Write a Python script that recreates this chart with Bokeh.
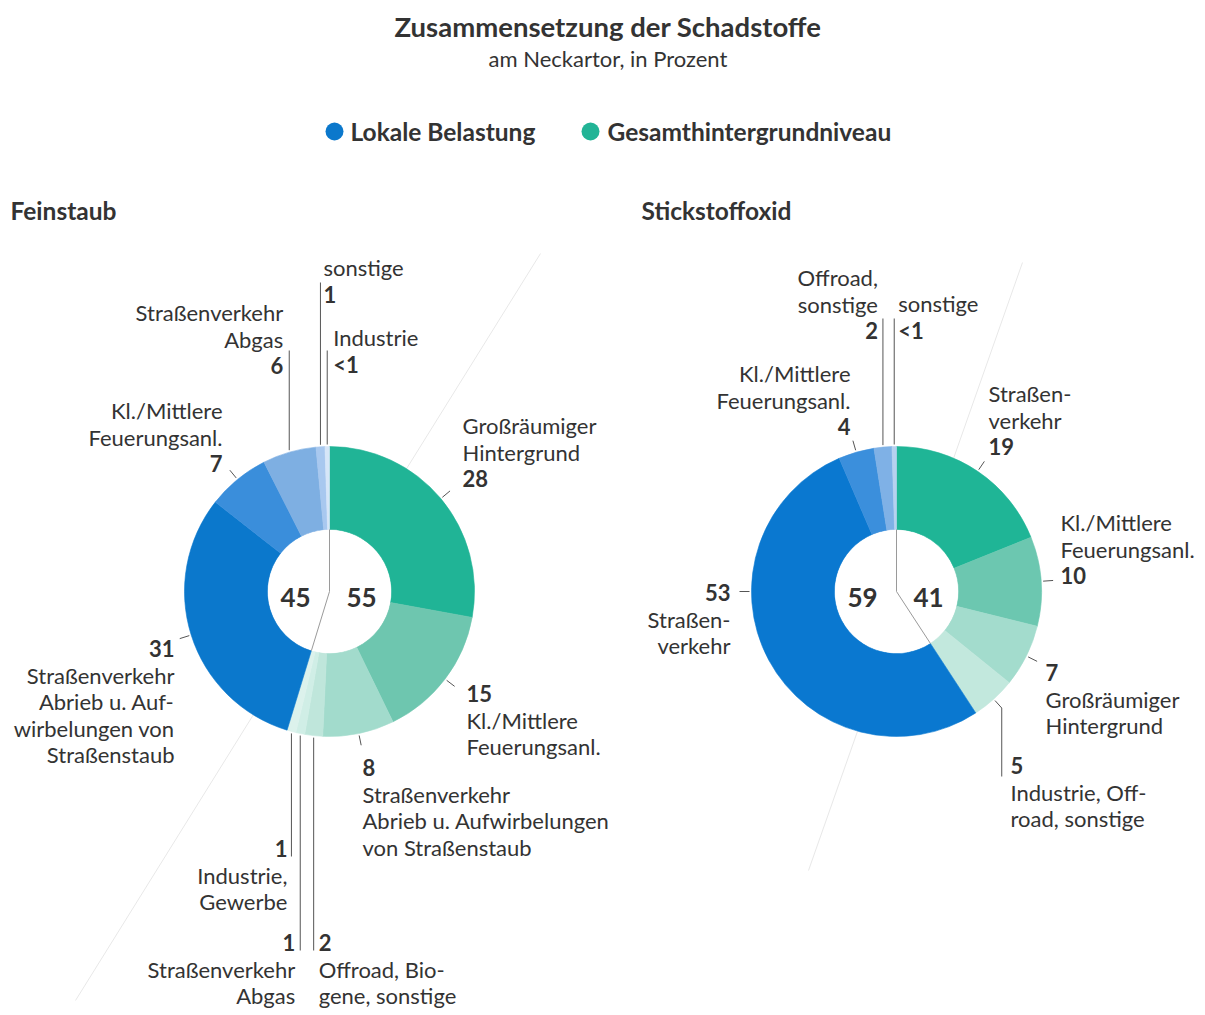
import math
from bokeh.plotting import figure
from bokeh.models import Range1d, ColumnDataSource
from bokeh.embed import file_html
from bokeh.resources import INLINE
from bokeh.core.properties import value

# ---------------- data ----------------
TITLE = "Zusammensetzung der Schadstoffe"
SUBTITLE = "am Neckartor, in Prozent"
LEGEND = ["Lokale Belastung", "Gesamthintergrundniveau"]

# Feinstaub, clockwise from 12 o'clock
FS_TITLE = "Feinstaub"
FS_GROUP = ["G", "G", "G", "G", "G", "G", "L", "L", "L", "L", "L"]
FS_VALUES = [28, 15, 8, 2, 1, 1, 31, 7, 6, 1, 0.5]
FS_SHOWN = ["28", "15", "8", "2", "1", "1", "31", "7", "6", "1", "<1"]
FS_TOTALS = ["45", "55"]  # lokal, hintergrund

# Stickstoffoxid, clockwise from 12 o'clock
NO_TITLE = "Stickstoffoxid"
NO_GROUP = ["G", "G", "G", "G", "L", "L", "L", "L"]
NO_VALUES = [19, 10, 7, 5, 53, 4, 2, 0.5]
NO_SHOWN = ["19", "10", "7", "5", "53", "4", "2", "<1"]
NO_TOTALS = ["59", "41"]

# ---------------- style ----------------
FONT = "Lato"
TXT = "#333333"
FS_COLORS = ["#20b496", "#6ec6af", "#a2dbcc", "#bfe6db", "#d0eee6", "#dcf2ec",
             "#0b78cc", "#3a8edb", "#7eafe2", "#a8c8ef", "#d6e6f8"]
NO_COLORS = ["#1fb596", "#6cc7b0", "#a3dccd", "#c2e8dd",
             "#0a78d0", "#3b8fdc", "#7fb1e6", "#b7d1f0"]
LEG_COLORS = ["#0b78cc", "#22b496"]
R_OUT, R_IN = 145, 62
LINE_H = 26.5
LBL_SIZE = 22
NUM_SIZE = 22

# label layout: (text lines, number first?, x, y of first line, align, leader)
FS_LAYOUT = [
    (["Großräumiger", "Hintergrund"], False, 462, 425, "left", ("tick", None)),
    (["Kl./Mittlere", "Feuerungsanl."], True, 466, 693, "left", ("tick", None)),
    (["Straßenverkehr", "Abrieb u. Aufwirbelungen", "von Straßenstaub"], True, 362, 767, "left", ("tick", None)),
    (["Offroad, Bio-", "gene, sonstige"], True, 5, 942, "left", ("vert", 950)),
    (["Straßenverkehr", "Abgas"], True, -5, 942, "right", ("vert", 950)),
    (["Industrie,", "Gewerbe"], True, -4, 848, "right", ("vert", 856)),
    (["Straßenverkehr", "Abrieb u. Auf-", "wirbelungen von", "Straßenstaub"], True, 174, 648, "right", ("tick", None)),
    (["Kl./Mittlere", "Feuerungsanl."], False, 222, 410, "right", ("tick", None)),
    (["Straßenverkehr", "Abgas"], False, -6, 312, "right", ("vert", 350)),
    (["sonstige"], False, 3, 267, "left", ("vert", 282)),
    (["Industrie"], False, 6, 337, "left", ("vert", 350)),
]
NO_LAYOUT = [
    (["Straßen-", "verkehr"], False, 988, 393, "left", ("tick", None)),
    (["Kl./Mittlere", "Feuerungsanl."], False, 1060, 522, "left", ("tick", None)),
    (["Großräumiger", "Hintergrund"], True, 1045, 672, "left", ("tick", None)),
    (["Industrie, Off-", "road, sonstige"], True, 1010, 765, "left", ("elbow", 776)),
    (["Straßen-", "verkehr"], True, 730, 592, "right", ("tick", 0.75)),
    (["Kl./Mittlere", "Feuerungsanl."], False, 850, 373, "right", ("tick", None)),
    (["Offroad,", "sonstige"], False, -5, 277, "right", ("vert", 318)),
    (["sonstige"], False, 4, 303, "left", ("vert", 318)),
]

W, H = 1205, 1015
p = figure(width=W, height=H, x_range=Range1d(0, W), y_range=Range1d(0, H),
           output_backend="svg", toolbar_location=None, min_border=0,
           min_border_left=0, min_border_right=0, min_border_top=0, min_border_bottom=0)
p.axis.visible = False
p.grid.visible = False
p.outline_line_color = None
p.background_fill_color = "white"
p.border_fill_color = "white"


def txt(x, y, s, size, bold=False, align="left", color=TXT):
    p.text(x=[x], y=[H - y], text=[s], text_font=value(FONT),
           text_font_size=f"{size}px", text_font_style="bold" if bold else "normal",
           text_align=align, text_baseline="middle", text_color=color)


def seg(xs, ys, color="#555555", width=1.0):
    p.line(x=xs, y=[H - v for v in ys], line_color=color, line_width=width)


def ring_pt(cx, cy, f, r):
    a = 2 * math.pi * f
    return cx + r * math.sin(a), cy - r * math.cos(a)


def donut(cx, cy, values, groups, colors, shown, layout, totals, deco):
    # faint decorative line behind the donut
    seg([deco[0][0], deco[1][0]], [deco[0][1], deco[1][1]], color="#e8e8e8", width=1)
    total = sum(values)
    starts, ends, cum = [], [], 0.0
    for v in values:
        starts.append(cum / total)
        cum += v
        ends.append(cum / total)
    src = ColumnDataSource(dict(
        start=[math.pi / 2 - 2 * math.pi * s for s in starts],
        end=[math.pi / 2 - 2 * math.pi * e for e in ends],
        color=colors))
    p.annular_wedge(x=cx, y=H - cy, inner_radius=R_IN, outer_radius=R_OUT,
                    start_angle="start", end_angle="end", direction="clock",
                    fill_color="color", line_color="color", line_width=0.6, source=src)
    # white hole
    p.circle(x=[cx], y=[H - cy], radius=R_IN - 0.5, fill_color="white", line_color=None)
    # divider in the hole
    nG = groups.count("G")
    fb = ends[nG - 1]
    tx, ty = ring_pt(cx, cy, 0, R_IN)
    bx, by = ring_pt(cx, cy, fb, R_IN)
    seg([tx, cx, bx], [ty, cy, by], color="#9a9a9a", width=1)
    txt(cx - 34, cy + 6, totals[0], 26, bold=True, align="center")
    txt(cx + 32, cy + 6, totals[1], 26, bold=True, align="center")
    # labels
    for i, (lines, num_first, lx, ly, align, leader) in enumerate(layout):
        kind, par = leader
        fm = (starts[i] + ends[i]) / 2
        if kind == "tick":
            if par is not None:
                fm = par
            x1, y1 = ring_pt(cx, cy, fm, R_OUT + 2)
            x2, y2 = ring_pt(cx, cy, fm, R_OUT + 12)
            seg([x1, x2], [y1, y2])
        elif kind == "vert":
            x0, y0 = ring_pt(cx, cy, fm, R_OUT)
            seg([x0, x0], [y0 + (2 if y0 > cy else -2), par])
            lx = x0 + lx
        elif kind == "elbow":
            x1, y1 = ring_pt(cx, cy, fm, R_OUT + 2)
            x2, y2 = ring_pt(cx, cy, fm, R_OUT + 12)
            seg([x1, x2, x2], [y1, y2, par])
        items = [(shown[i], True)] + [(l, False) for l in lines] if num_first else \
            [(l, False) for l in lines] + [(shown[i], True)]
        for k, (s, b) in enumerate(items):
            txt(lx, ly + k * LINE_H, s, NUM_SIZE if b else LBL_SIZE, bold=b, align=align)


# titles
txt(W / 2 + 5, 26, TITLE, 27.5, bold=True, align="center")
txt(W / 2 + 5, 58, SUBTITLE, 22, align="center")
# legend
p.scatter(x=[334, 590], y=[H - 131, H - 131], size=18, marker="circle",
          fill_color=LEG_COLORS, line_color=None)
txt(350, 131, LEGEND[0], 24.5, bold=True)
txt(607, 131, LEGEND[1], 24.5, bold=True)
# section titles
txt(10, 210, FS_TITLE, 24.5, bold=True)
txt(641, 210, NO_TITLE, 24.5, bold=True)

donut(329, 591, FS_VALUES, FS_GROUP, FS_COLORS, FS_SHOWN, FS_LAYOUT, FS_TOTALS,
      ((540, 253), (75, 1000)))
donut(896, 591, NO_VALUES, NO_GROUP, NO_COLORS, NO_SHOWN, NO_LAYOUT, NO_TOTALS,
      ((1022, 262), (808, 870)))

open("out.html", "w").write(file_html(p, INLINE))
